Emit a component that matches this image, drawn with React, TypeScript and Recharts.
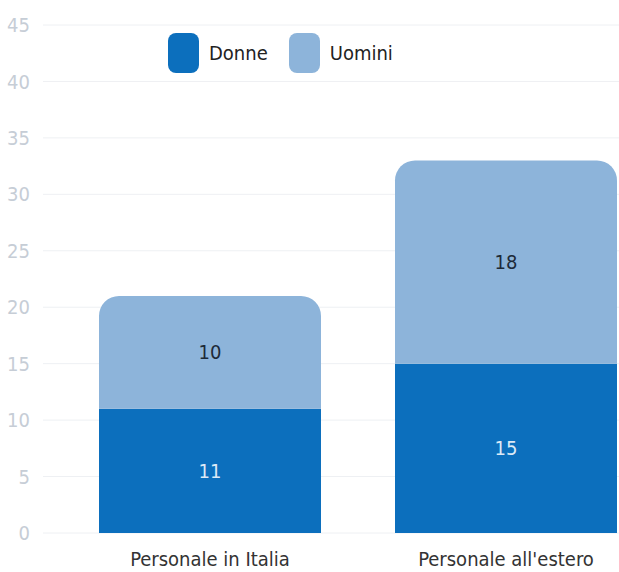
import { BarChart, Bar, XAxis, YAxis, CartesianGrid, Legend, LabelList } from "recharts";

const categories = ["Personale in Italia", "Personale all'estero"];
const donne = [11, 15];
const uomini = [10, 18];
const yTicks = [0, 5, 10, 15, 20, 25, 30, 35, 40, 45];

const COLORS = {
  donne: "#0c6fbd",
  uomini: "#8db4da",
};

const FONT = "'DejaVu Sans', sans-serif";
const COND = { fontStretch: "condensed" };

const data = categories.map((name, i) => ({ name, donne: donne[i], uomini: uomini[i] }));

function LegendContent() {
  const items = [
    { label: "Donne", color: COLORS.donne },
    { label: "Uomini", color: COLORS.uomini },
  ];
  return (
    <div style={{ display: "flex", alignItems: "center", fontFamily: FONT, fontStretch: "condensed", fontSize: 20, color: "#222" }}>
      {items.map((it) => (
        <div key={it.label} style={{ display: "flex", alignItems: "center", marginRight: 21 }}>
          <div style={{ width: 31, height: 40, borderRadius: 8, background: it.color, marginRight: 10 }} />
          <span>{it.label}</span>
        </div>
      ))}
    </div>
  );
}

export default function App() {
  return (
    <div
      style={{
        position: "fixed",
        top: 0,
        left: 0,
        width: 619,
        height: 572,
        overflow: "hidden",
        background: "#fff",
        fontStretch: "condensed",
      }}
    >
      <BarChart width={660} height={572} data={data} margin={{ top: 25, right: 0, bottom: 0, left: 0 }} barSize={222}>
        <CartesianGrid horizontal vertical={false} stroke="#eef0f3" />
        <XAxis
          dataKey="name"
          axisLine={false}
          tickLine={false}
          tickSize={0}
          tickMargin={19}
          height={39}
          padding={{ left: 19, right: 6 }}
          tick={{ fill: "#333", fontSize: 20, fontFamily: FONT, style: COND }}
        />
        <YAxis
          domain={[0, 45]}
          ticks={yTicks}
          width={43}
          axisLine={false}
          tickLine={false}
          tickSize={0}
          tickMargin={13}
          tick={{ fill: "#c6cdd6", fontSize: 20, fontFamily: FONT, style: COND }}
        />
        <Legend
          verticalAlign="middle"
          align="center"
          layout="horizontal"
          wrapperStyle={{ top: 33, left: 168, width: 300 }}
          content={<LegendContent />}
        />
        <Bar dataKey="donne" name="Donne" stackId="a" fill={COLORS.donne} isAnimationActive={false}>
          <LabelList dataKey="donne" position="center" fill="#dceaf7" fontSize={20} fontFamily={FONT} style={COND} />
        </Bar>
        <Bar
          dataKey="uomini"
          name="Uomini"
          stackId="a"
          fill={COLORS.uomini}
          radius={[20, 20, 0, 0]}
          isAnimationActive={false}
        >
          <LabelList dataKey="uomini" position="center" fill="#1d2a38" fontSize={20} fontFamily={FONT} style={COND} />
        </Bar>
      </BarChart>
    </div>
  );
}
